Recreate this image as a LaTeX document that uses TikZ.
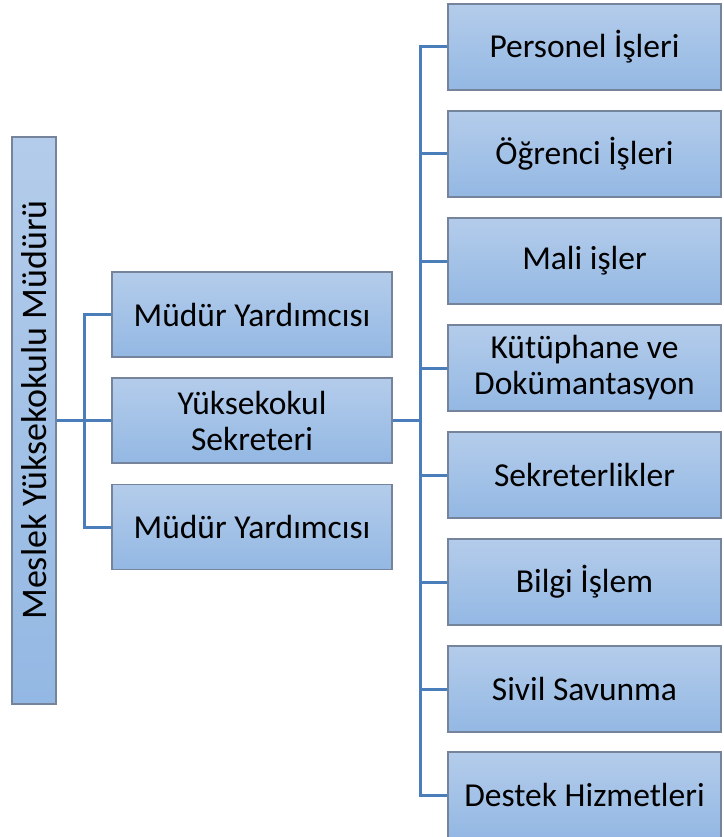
\documentclass[tikz,border=0pt]{standalone}
\usepackage{fontspec}
\setmainfont{Carlito}
\definecolor{boxtop}{RGB}{180,204,235}
\definecolor{boxbot}{RGB}{147,184,227}
\definecolor{boxline}{RGB}{118,132,155}
\definecolor{conn}{RGB}{74,126,187}
\tikzset{
  box/.style={draw=boxline, line width=1.1pt, top color=boxtop, bottom color=boxbot,
    inner sep=0pt, align=center, font=\fontsize{33.5}{36}\selectfont},
  midbox/.style={box, minimum width=280pt, minimum height=85pt},
  rightbox/.style={box, minimum width=273pt, minimum height=86pt},
  link/.style={draw=conn, line width=3pt}
}
\begin{document}
\begin{tikzpicture}[x=1pt,y=-1pt]
\useasboundingbox (0,0) rectangle (723,837);
% left box
\node[box, minimum width=44pt, minimum height=567pt] (L) at (34,420.5) {};
\node[rotate=90, font=\fontsize{36}{38}\selectfont, inner sep=0pt] (Ltext) at (34,410) {Meslek Yüksekokulu Müdürü};
% middle boxes
\node[midbox] (m1) at (252,314.5) {Müdür Yardımcısı};
\node[midbox] (m2) at (252,420.5) {Yüksekokul\\Sekreteri};
\node[midbox] (m3) at (252,527) {Müdür Yardımcısı};
% right boxes
\node[rightbox] (r1) at (584.5,47) {Personel İşleri};
\node[rightbox] (r2) at (584.5,154) {Öğrenci İşleri};
\node[rightbox] (r3) at (584.5,261) {Mali işler};
\node[rightbox] (r4) at (584.5,368) {Kütüphane ve\\Dokümantasyon};
\node[rightbox] (r5) at (584.5,475) {Sekreterlikler};
\node[rightbox] (r6) at (584.5,582) {Bilgi İşlem};
\node[rightbox] (r7) at (584.5,689) {Sivil Savunma};
\node[rightbox] (r8) at (584.5,795) {Destek Hizmetleri};
% connectors
\coordinate (lj) at (84,420.5);
\coordinate (rj) at (420,420.5);
\draw[link] (L.east) -- (m2.west);
\draw[link] (m1.west) -| (lj) |- (m3.west);
\draw[link] (m2.east) -- (rj);
\draw[link] (r1.west) -| (rj) |- (r8.west);
\foreach \i in {2,...,7} {
  \draw[link] (rj |- r\i.west) -- (r\i.west);
}
\end{tikzpicture}
\end{document}
